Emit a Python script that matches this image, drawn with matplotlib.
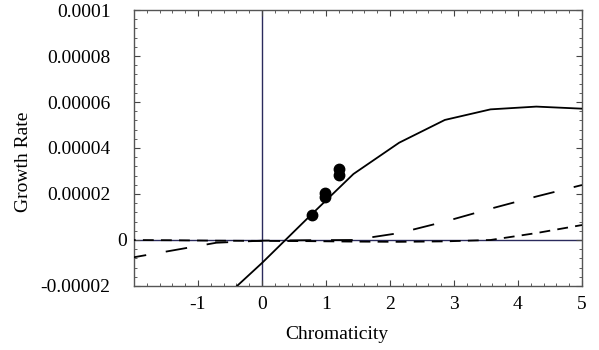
import matplotlib
matplotlib.use('Agg')
import matplotlib.pyplot as plt
import matplotlib.transforms as mtransforms
from matplotlib.ticker import MultipleLocator, FixedLocator
import numpy as np

# chromaticity grid of the model curves
chrom = [-2.143, -1.429, -0.714, 0.0, 0.714, 1.429, 2.143, 2.857, 3.571, 4.286, 5.0]

# growth rates (x 1e-6)
growth_solid = [-46.0, -37.0, -28.3, -10.0, 9.5, 28.7, 42.3, 52.2, 56.8, 58.0, 57.1]
growth_long = [-8.2, -4.7, -1.2, -0.3, -0.1, 0.0, 3.0, 8.0, 13.6, 18.9, 23.9]
growth_short = [0.0, -0.1, -0.3, -0.4, -0.5, -0.7, -0.8, -0.6, 0.0, 3.0, 6.5]

# measured points
meas_x = [0.78, 0.98, 0.98, 1.21, 1.21]
meas_y = [10.9, 18.6, 20.6, 28.3, 30.7]

ytick_vals = [-0.00002, 0, 0.00002, 0.00004, 0.00006, 0.00008, 0.0001]
ytick_lbls = ['-0.00002', '0', '0.00002', '0.00004', '0.00006', '0.00008', '0.0001']
xtick_vals = [-1, 0, 1, 2, 3, 4, 5]

plt.rcParams['font.family'] = ['Liberation Serif', 'DejaVu Serif']
plt.rcParams['font.size'] = 14

fig = plt.figure(figsize=(5.99, 3.5), dpi=100)
ax = fig.add_axes([0.2237, 0.1829, 0.7479, 0.7885])

sc = 1e-6
ax.axhline(0, color='#2a2a5c', lw=1.0, zorder=1)
ax.axvline(0, color='#2a2a5c', lw=1.0, zorder=1)

ax.plot(chrom, np.array(growth_solid) * sc, color='black', lw=1.3, zorder=3)
ax.plot(chrom, np.array(growth_long) * sc, color='black', lw=1.3,
        dashes=(12, 11), zorder=3)
ax.plot(chrom, np.array(growth_short) * sc, color='black', lw=1.3,
        dashes=(6, 4), zorder=3)
ax.plot(meas_x, np.array(meas_y) * sc, 'o', color='black', ms=7.5, zorder=4)

ax.set_xlim(-2, 5)
ax.set_ylim(-0.00002, 0.0001)

ax.xaxis.set_major_locator(FixedLocator(xtick_vals))
ax.xaxis.set_minor_locator(MultipleLocator(0.2))
ax.yaxis.set_major_locator(FixedLocator(ytick_vals))
ax.yaxis.set_minor_locator(MultipleLocator(0.000004))
ax.set_yticklabels(ytick_lbls)
ax.set_xticklabels([str(v) for v in xtick_vals])

ax.tick_params(which='both', direction='in', top=True, right=True, color='#444444')
ax.tick_params(which='major', length=4, width=0.8)
ax.tick_params(axis='x', which='major', pad=7)
ax.tick_params(axis='y', which='major', pad=17)
ax.tick_params(which='minor', length=2.5, width=0.6)
for s in ax.spines.values():
    s.set_color('#555555')
    s.set_linewidth(1.0)

# the "0" label sits closer to the frame
for lab in ax.get_yticklabels():
    if lab.get_text() == '0':
        lab.set_transform(lab.get_transform() +
                          mtransforms.ScaledTranslation(0.17, 0, fig.dpi_scale_trans))

ax.set_xlabel('Chromaticity')
ax.xaxis.set_label_coords(0.453, -0.145)
ax.set_ylabel('Growth Rate')
ax.yaxis.set_label_coords(-0.228, 0.449)

fig.savefig('out.png', dpi=100)
